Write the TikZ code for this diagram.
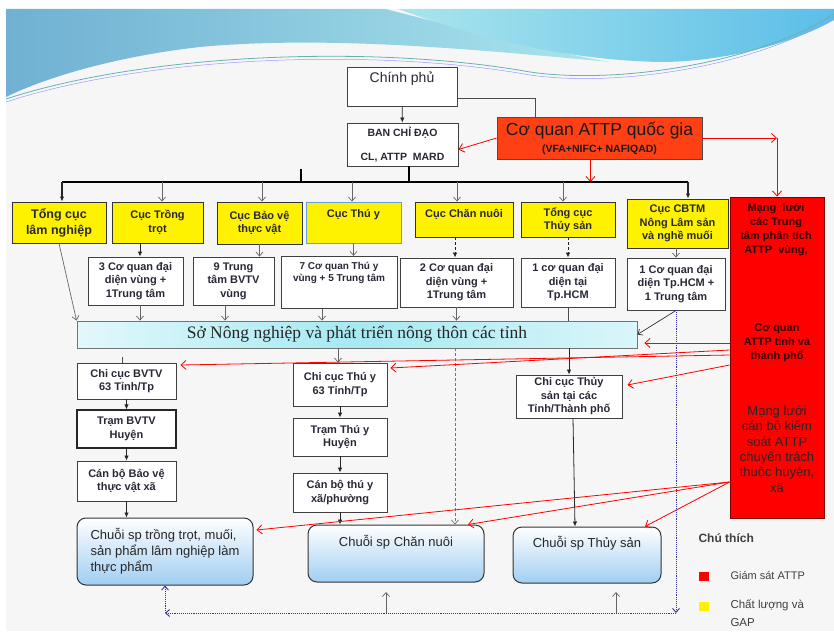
\documentclass[tikz,border=0pt]{standalone}
\usepackage{fontspec}
\setmainfont{Liberation Sans}
\newfontfamily\timesfont{Liberation Serif}
\usetikzlibrary{arrows.meta,shapes}

\definecolor{attporange}{RGB}{255,64,20}
\definecolor{soL}{RGB}{226,248,251}
\definecolor{soM}{RGB}{165,233,241}
\definecolor{soR}{RGB}{218,246,250}
\definecolor{chainblue}{RGB}{160,206,242}
\definecolor{slide}{RGB}{246,246,246}
\definecolor{wavedark}{RGB}{112,176,210}
\definecolor{wavelight}{RGB}{170,229,237}
\definecolor{waveright}{RGB}{92,190,232}
\definecolor{boxtext}{RGB}{40,40,55}
\definecolor{thuyborder}{RGB}{100,160,220}

\tikzset{
  box/.style={rectangle, draw=black!75, fill=white, line width=0.9pt, align=center, inner sep=2pt, text=boxtext, font=\fontsize{11}{13.5}\selectfont\bfseries},
  ybox/.style={box, fill=yellow, draw=black!80},
  chain/.style={rectangle, rounded corners=9pt, draw=black!80, line width=1pt, top color=white, bottom color=chainblue, inner sep=3pt, text=black!85, font=\fontsize{13}{16}\selectfont},
  redtxt/.style={align=center, text=red!20!black, font=\fontsize{11}{14}\selectfont\bfseries},
  blk/.style={-{Latex[length=5pt,width=4.5pt]}, black!85, line width=0.8pt},
  gry/.style={-{Straight Barb[length=4pt,width=7pt]}, black!60, line width=0.7pt},
  redarr/.style={-{Straight Barb[length=5pt,width=9pt]}, red, line width=0.8pt},
  bdot/.style={densely dotted, blue!50!black!80, line width=0.9pt, -{Straight Barb[length=4pt,width=7pt]}},
  sq/.style={rectangle, minimum width=10pt, minimum height=9pt, inner sep=0pt},
}

\begin{document}
\begin{tikzpicture}[x=1pt, y=-1pt, >=latex]
  \useasboundingbox (0,0) rectangle (834,631);
  % slide background and wave
  \fill[slide] (6,9) rectangle (834,631);
  \shade[left color=wavedark, right color=wavelight] (6,9) -- (385,9) .. controls (450,25) and (540,50) .. (610,62) .. controls (480,50) and (330,35) .. (200,47) .. controls (110,57) and (40,80) .. (6,97) -- cycle;
  \shade[left color=wavelight, right color=waveright] (398,9) -- (834,9) -- (834,20) .. controls (790,45) and (720,62) .. (660,62) .. controls (560,60) and (470,35) .. (398,9) -- cycle;
  \draw[teal!60, line width=0.8pt] (6,99) .. controls (150,52) and (380,45) .. (530,72) .. controls (620,85) and (760,62) .. (834,14);
  \draw[blue!40, line width=0.5pt] (6,102) .. controls (150,55) and (380,48) .. (530,75) .. controls (620,88) and (760,65) .. (834,17);

  % Nodes
  \node[box, font=\fontsize{14}{16}\selectfont, minimum width=110pt, text height=12pt, text depth=19pt, inner ysep=4pt] (gov) at (402,86.5) {Chính phủ};
  \node[box, font=\fontsize{10.5}{13}\selectfont\bfseries, minimum width=111pt, minimum height=43pt] (ban) at (402.5,144.5) {BAN CHỈ ĐẠO\\[11pt]CL, ATTP~~MARD};
  \node[box, fill=attporange, draw=black!70, text=black!90, minimum width=205pt, minimum height=42pt, inner ysep=1pt, font=\fontsize{17.5}{20}\selectfont] (nfa) at (599.5,138) {Cơ quan ATTP quốc gia\\[-3pt]{\fontsize{10.5}{12}\selectfont\bfseries (VFA+NIFC+ NAFIQAD)}};

  \node[ybox, font=\fontsize{12.5}{16}\selectfont\bfseries, minimum width=94pt, minimum height=41pt] (tclam) at (59,222.5) {Tổng cục\\lâm nghiệp};
  \node[ybox, minimum width=91pt, minimum height=41pt] (trong) at (157.5,222.5) {Cục Trồng\\trọt};
  \node[ybox, minimum width=85pt, minimum height=42pt] (bvtv) at (259.5,223) {Cục Bảo vệ\\thực vật};
  \node[ybox, draw=thuyborder, minimum width=95pt, text height=13pt, text depth=24pt] (thuy) at (353.5,222.5) {Cục Thú y};
  \node[ybox, minimum width=98pt, text height=13pt, text depth=18pt] (chan) at (464,219.5) {Cục Chăn nuôi};
  \node[ybox, minimum width=94pt, minimum height=35pt] (tcts) at (568,219.5) {Tổng cục\\Thủy sản};
  \node[ybox, minimum width=101pt, minimum height=49pt] (cbtm) at (677.5,223.5) {Cục CBTM\\Nông Lâm sản\\và nghề muối};

  \node[rectangle, draw=red!50!black, fill=red, line width=0.9pt, minimum width=94pt, minimum height=321pt] (net) at (777,357.5) {};
  \node[redtxt] (netA) at (776,230) {Mạng~~lưới\\các Trung\\tâm phân tích\\ATTP~~vùng,};
  \node[redtxt] (netB) at (777,343) {Cơ quan\\ATTP tỉnh và\\thành phố};
  \node[redtxt, text=black!85, font=\fontsize{13}{15.4}\selectfont] (netC) at (777,449) {Mạng lưới\\cán bộ kiểm\\soát ATTP\\chuyên trách\\thuộc huyện,\\xã};

  \node[box, minimum width=95pt, minimum height=48pt] (tt3) at (135.5,281) {3 Cơ quan đại\\diện vùng +\\1Trung tâm};
  \node[box, minimum width=81pt, minimum height=48pt] (bv9) at (233.5,281) {9 Trung\\tâm BVTV\\vùng};
  \node[box, font=\fontsize{10}{12}\selectfont\bfseries, minimum width=116pt, inner ysep=6pt, text depth=21pt] (ty7) at (339,282.5) {7 Cơ quan Thú y\\vùng + 5 Trung tâm};
  \node[box, minimum width=113pt, minimum height=49pt] (cn2) at (456.5,282.5) {2 Cơ quan đại\\diện vùng +\\1Trung tâm};
  \node[box, minimum width=94pt, minimum height=49pt] (ts1) at (568,282.5) {1 cơ quan đại\\diện tại\\Tp.HCM};
  \node[box, minimum width=98pt, minimum height=52pt] (cb1) at (676,284) {1 Cơ quan đại\\diện Tp.HCM +\\1 Trung tâm};

  \node[rectangle, draw=black!55, line width=0.9pt, left color=soL, right color=soR, middle color=soM, minimum width=560pt, minimum height=27pt, text=black!85, font=\timesfont\fontsize{17.5}{20}\selectfont] (so) at (357,334.5) {Sở Nông nghiệp và phát triển nông thôn các tỉnh};

  \node[box, minimum width=99pt, minimum height=36pt] (ccbv) at (126.5,381) {Chi cục BVTV\\63 Tỉnh/Tp};
  \node[box, line width=1.3pt, draw=black!85, minimum width=99pt, minimum height=38pt] (trbv) at (126.5,429) {Trạm BVTV\\Huyện};
  \node[box, minimum width=99pt, minimum height=40pt] (cbbv) at (126.5,481) {Cán bộ Bảo vệ\\thực vật xã};
  \node[box, minimum width=94pt, minimum height=43pt] (ccty) at (340,384.5) {Chi cục Thú y\\63 Tỉnh/Tp};
  \node[box, minimum width=94pt, minimum height=38pt] (trty) at (340,437) {Trạm Thú y\\Huyện};
  \node[box, minimum width=94pt, minimum height=39pt] (cbty) at (340,492.5) {Cán bộ thú y\\xã/phường};
  \node[box, minimum width=106pt, minimum height=43pt, inner ysep=0pt] (ccts) at (569,396.5) {Chi cục Thủy\\sản tại các\\Tỉnh/Thành phố};

  \node[chain, align=left, minimum width=176pt, minimum height=67pt] (ctt) at (165,551.5) {Chuỗi sp trồng trọt, muối,\\sản phẩm lâm nghiệp làm\\thực phẩm};
  \node[chain, align=center, minimum width=176pt, text height=18.5pt, text depth=32.5pt] (ccn) at (396,553.5) {Chuỗi sp Chăn nuôi};
  \node[chain, align=center, minimum width=148pt, text height=17.5pt, text depth=32.5pt] (cts) at (587,555) {Chuỗi sp Thủy sản};

  % legend
  \node[anchor=west, text=black!75, font=\fontsize{12}{14}\selectfont\bfseries] (legend) at (695,538) {Chú thích};
  \node[sq, fill=red] (legred) at (704,576) {};
  \node[anchor=west, text=black!75, font=\fontsize{11}{13}\selectfont] (legredtxt) at (727,575) {Giám sát ATTP};
  \node[sq, fill=yellow] (legyel) at (704,606) {};
  \node[anchor=west, align=left, text=black!75, font=\fontsize{11.5}{18}\selectfont] (legyeltxt) at (727,613) {Chất lượng và\\GAP};

  % Edges
  \coordinate (barL) at (62,182);
  \coordinate (barR) at (688,182);
  \coordinate (stub) at (301,169);
  \coordinate (govk) at (535,98);
  \draw[blk] (gov) -- (ban);
  \draw[black!70, line width=0.8pt] (gov.east |- govk) -- (govk) -- (govk |- nfa.north);
  \draw[redarr] (nfa.west) -- ([yshift=-5pt]ban.east);
  \draw[redarr] ([xshift=-9pt]nfa.south) -- ([xshift=-9pt]nfa.south |- barL);
  \draw[redarr] (nfa.east) -- (nfa.east -| net.north);
  \draw[redarr] (nfa.east -| net.north) -- (net.north);

  \draw[black, line width=2pt] (barL) -- (barR);
  \draw[black, line width=2pt] ([xshift=6.5pt]ban.south) -- ([xshift=6.5pt]ban.south |- barL);
  \draw[black, line width=2pt] (stub) -- (stub |- barL);
  \draw[blk, line width=1.6pt] (barL) -- (barL |- tclam.north);
  \draw[blk, line width=1.6pt] (barR) -- (barR |- cbtm.north);
  \draw[gry] ([xshift=4.5pt]trong.north |- barL) -- ([xshift=4.5pt]trong.north);
  \draw[gry] ([xshift=2.5pt]bvtv.north |- barL) -- ([xshift=2.5pt]bvtv.north);
  \draw[gry] ([xshift=-1.5pt]thuy.north |- barL) -- ([xshift=-1.5pt]thuy.north);
  \draw[gry] ([xshift=-7pt]chan.north |- barL) -- ([xshift=-7pt]chan.north);
  \draw[gry] ([xshift=-5pt]tcts.north |- barL) -- ([xshift=-5pt]tcts.north);

  \draw[blk] ([xshift=4.5pt]tt3.north |- trong.south) -- ([xshift=4.5pt]tt3.north);
  \draw[gry] (bvtv.south) -- (bvtv.south |- bv9.north);
  \draw[gry] (thuy.south) -- (thuy.south |- ty7.north);
  \draw[blk, densely dashed] ([xshift=-9pt]chan.south) -- ([xshift=-9pt]chan.south |- cn2.north);
  \draw[blk, densely dashed] (tcts.south) -- (ts1.north);
  \draw[gry] (cb1.north |- cbtm.south) -- (cb1.north);

  \draw[gry] (tclam.south) -- (so.north west);
  \draw[gry] ([xshift=4.5pt]tt3.south) -- ([xshift=4.5pt]tt3.south |- so.north);
  \draw[gry] ([xshift=-8.5pt]bv9.south) -- ([xshift=-8.5pt]bv9.south |- so.north);
  \draw[gry] ([xshift=-17pt]ty7.south) -- ([xshift=-17pt]ty7.south |- so.north);
  \draw[gry] (cn2.south) -- (cn2.south |- so.north);
  \draw[black!70, line width=0.7pt] (ts1.south) -- (ts1.south |- so.north);
  \draw[gry, black!80] (cb1.south) -- (so.east);

  \coordinate (bvk) at (122,357);
  \draw[black!70, line width=0.7pt] (bvk) -- (bvk |- ccbv.north);
  \draw[gry] ([xshift=-2pt]ccty.north |- so.south) -- ([xshift=-2pt]ccty.north);
  \draw[blk] (ccts.north |- so.south) -- (ccts.north);
  \draw[gry, densely dashed, black!55] ([xshift=-1.5pt]cn2.south |- so.south) -- ([xshift=-1.5pt]cn2.south |- ccn.north);

  \draw[blk] (ccbv) -- (trbv);
  \draw[blk] (trbv) -- (cbbv);
  \draw[blk] (cbbv.south) -- (cbbv.south |- ctt.north);
  \draw[blk] (ccty) -- (trty);
  \draw[blk] (trty) -- (cbty);
  \draw[blk] (cbty.south) -- (cbty.south |- ccn.north);
  \draw[blk] ([xshift=4pt]ccts.south) -- ([xshift=-12pt]cts.north);

  \coordinate (dR) at (676,613);
  \coordinate (dL) at (165,613);
  \coordinate (up1) at (386,592);
  \coordinate (up2) at (616,592);
  \draw[bdot] (cb1.south) -- (dR);
  \draw[bdot] (dR) -- (dL);
  \draw[bdot] (dL) -- (ctt.south);
  \draw[gry] (up1 |- dL) -- (up1);
  \draw[gry] (up2 |- dL) -- (up2);

  \draw[redarr] ([yshift=14.5pt]net.west) -- ([xshift=7pt,yshift=-8.5pt]so.east);
  \draw[redarr] ([yshift=7.5pt]net.west) -- ([xshift=3pt,yshift=16.5pt]ccty.east);
  \draw[redarr] ([yshift=2.5pt]net.west) -- ([xshift=4pt,yshift=16pt]ccbv.east);
  \draw[redarr] ([yshift=-7.5pt]net.west) -- ([xshift=5pt,yshift=11.5pt]ccts.east);
  \draw[redarr] ([yshift=-124.5pt]net.west) -- ([xshift=3pt,yshift=21.5pt]ctt.east);
  \draw[redarr] ([yshift=-124.5pt]net.west) -- ([xshift=72pt]ccn.north);
  \draw[redarr] ([yshift=-124.5pt]net.west) -- ([xshift=58pt]cts.north);
\end{tikzpicture}
\end{document}
